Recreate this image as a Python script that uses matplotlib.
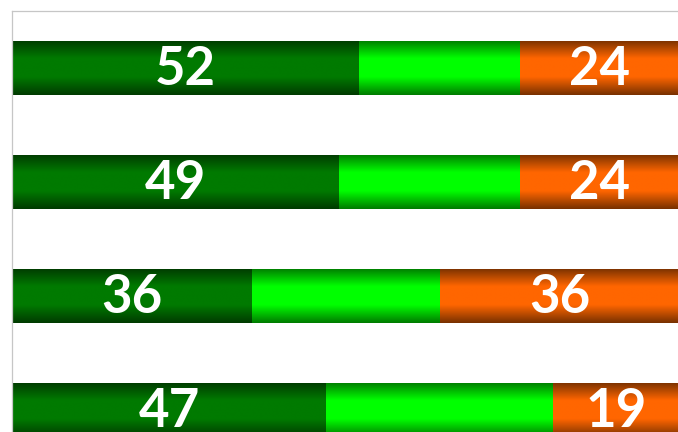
import numpy as np
import matplotlib
matplotlib.use("Agg")
import matplotlib.pyplot as plt
from matplotlib.colors import LinearSegmentedColormap

# Data
categories = ["A", "B", "C", "D"]
strong = [52, 49, 36, 47]
mid = [24, 27, 28, 34]
against = [24, 24, 36, 19]

W, H = 678, 432
fig = plt.figure(figsize=(W / 100, H / 100), dpi=100)
ax = fig.add_axes([12 / W, (H - 11 - 456) / H, 668 / W, 456 / H])

y = np.arange(len(categories))
series = [
    (strong, ("#003a00", "#007a00"), True),
    (mid, ("#007a00", "#00ff00"), False),
    (against, ("#773000", "#ff6600"), True),
]
left = np.zeros(len(categories))
stops = [0.0, 0.33, 0.67, 1.0]
grad = np.linspace(0, 1, 256).reshape(-1, 1)
for vals, (edge, center), show in series:
    vals = np.array(vals, dtype=float)
    cmap = LinearSegmentedColormap.from_list(
        "g", list(zip(stops, [edge, center, center, edge])))
    bars = ax.barh(y, vals, left=left, height=0.48, color=center, edgecolor="none")
    for b, v, l in zip(bars, vals, left):
        x0, y0 = b.get_x(), b.get_y()
        w, h = b.get_width(), b.get_height()
        im = ax.imshow(grad, cmap=cmap, aspect="auto",
                       extent=[x0, x0 + w, y0 + h, y0], zorder=2,
                       interpolation="bilinear")
        im.set_clip_path(b)
        if show:
            ax.text(l + v / 2, b.get_y() + h / 2 + 0.015, f"{int(v)}", ha="center",
                    va="center", color="white", fontsize=38,
                    fontweight="bold", family=["Lato", "Open Sans", "DejaVu Sans"],
                    zorder=3)
    left = left + vals

ax.set_xlim(0, 100)
ax.set_ylim(len(categories) - 0.5, -0.5)
ax.set_xticks([])
ax.set_yticks([])
for s in ["right", "bottom"]:
    ax.spines[s].set_visible(False)
for s in ["top", "left"]:
    ax.spines[s].set_color("#c6c6c6")
    ax.spines[s].set_linewidth(0.9)

fig.savefig("out.png", dpi=100)
